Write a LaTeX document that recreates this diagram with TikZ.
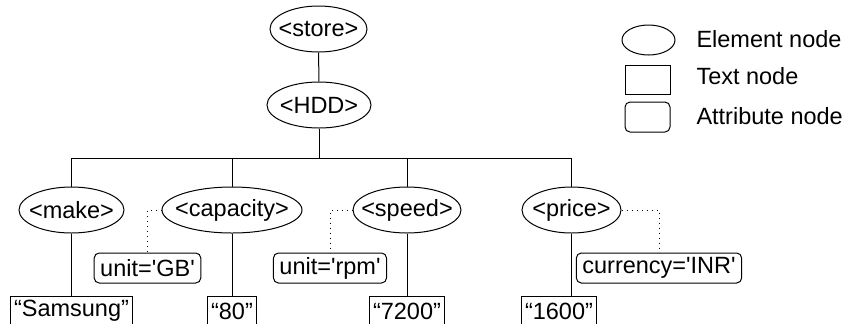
\documentclass[tikz,border=0pt]{standalone}
\usepackage{fontspec}
\setmainfont{Liberation Sans}
\usetikzlibrary{positioning,shapes.geometric}
\newcommand{\sq}{\textquotesingle}

\begin{document}
\begin{tikzpicture}[
    x=0.5pt, y=-0.5pt,
    node distance=31pt,
    line width=0.5pt,
    elem/.style={
      draw, ellipse, inner xsep=-4pt, inner ysep=0pt,
      minimum height=23pt, font=\fontsize{11.75}{14}\selectfont
    },
    textbox/.style={
      draw, rectangle, inner xsep=1.8pt, inner ysep=0pt,
      minimum height=15pt, anchor=north,
      font=\fontsize{11.75}{14}\selectfont
    },
    attrbox/.style={
      draw, rectangle, rounded corners=2.5pt, inner xsep=3pt,
      inner ysep=0pt, minimum height=15pt,
      font=\fontsize{11.75}{14}\selectfont
    },
    legtext/.style={anchor=west, inner sep=0pt,
      font=\fontsize{11.75}{14}\selectfont},
    attrline/.style={dotted, line width=0.5pt},
  ]
  \useasboundingbox (0,0) rectangle (846,323);

  % Tree: root and HDD
  \node[elem, minimum width=48.5pt] (store) at (318.5,29) {<store>};
  \node[elem, minimum width=52pt] (hdd) at (319,105) {<HDD>};
  \coordinate (bus) at (0,158);

  % Child elements
  \node[elem, minimum width=52.5pt] (make) at (71.5,210) {<make>};
  \node[elem, minimum width=70pt] (capacity) at (232,210) {<capacity>};
  \node[elem, minimum width=54pt] (speed) at (407,210) {<speed>};
  \node[elem, minimum width=49.5pt] (price) at (571.5,210) {<price>};

  % Attribute nodes
  \node[attrbox] (gb) at (147.5,268) {unit=\sq GB\sq};
  \node[attrbox] (rpm) at (330,268) {unit=\sq rpm\sq};
  \node[attrbox] (inr) at (659,268) {currency=\sq INR\sq};

  % Text nodes
  \node[textbox, below=of make] (samsung) {“Samsung”};
  \node[textbox, below=of capacity] (t80) {“80”};
  \node[textbox, below=of speed] (t7200) {“7200”};
  \node[textbox, below=of price, xshift=-6.25pt] (t1600) {“1600”};

  % Tree edges
  \draw (store) -- (hdd);
  \draw (hdd) -- (hdd |- bus);
  \draw (make.north) -- (make.north |- bus) -| (price.north);
  \draw (capacity.north) -- (capacity.north |- bus);
  \draw (speed.north) -- (speed.north |- bus);

  \draw (make) -- (samsung);
  \draw (capacity) -- (t80);
  \draw (speed) -- (t7200);
  \draw (price.south) -- (price.south |- t1600.north);

  % Attribute links
  \draw[attrline] (capacity.west) -| (gb.north);
  \draw[attrline] (speed.west) -| (rpm.north);
  \draw[attrline] (price.east) -| (inr.north);

  % Legend
  \node[draw, ellipse, minimum width=26.5pt, minimum height=15pt,
        inner sep=0pt] (legelem) at (648.5,40) {};
  \node[draw, rectangle, minimum width=22.5pt, minimum height=14.5pt,
        inner sep=0pt] (legtext) at (647.5,79.5) {};
  \node[draw, rectangle, rounded corners=2.5pt, minimum width=22.5pt,
        minimum height=15pt, inner sep=0pt] (legattr) at (647.5,117) {};
  \node[legtext] (lab1) at (696,39) {Element node};
  \node[legtext] (lab2) at (696,76) {Text node};
  \node[legtext] (lab3) at (696,116) {Attribute node};
\end{tikzpicture}
\end{document}
